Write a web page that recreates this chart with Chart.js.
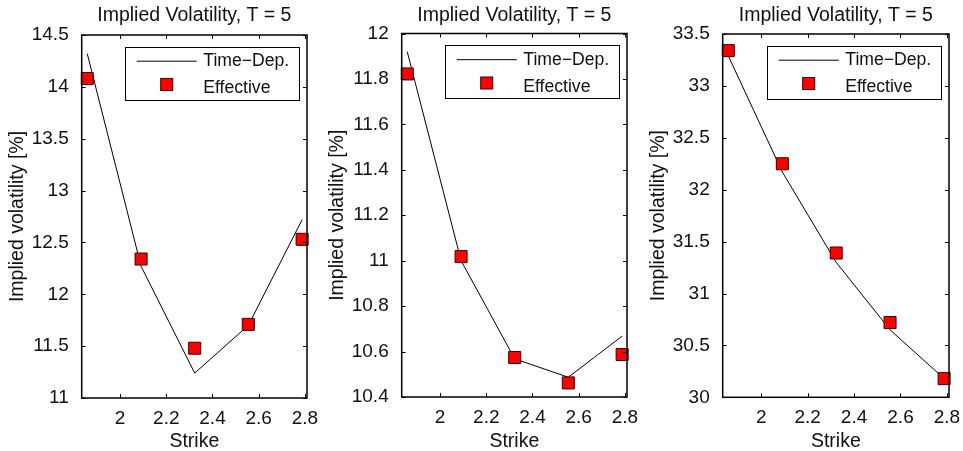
<!DOCTYPE html>
<html><head><meta charset="utf-8">
<script src="https://cdn.jsdelivr.net/npm/chart.js@4/dist/chart.umd.min.js"></script>
<style>
html,body{margin:0;padding:0;background:#fff;}
#wrap{position:relative;width:963px;height:451px;overflow:hidden;background:#fff;}
.pane{position:absolute;top:0;width:321px;height:451px;}
</style></head><body>
<div id="wrap">
<div class="pane" style="left:0px"><canvas id="c1" width="321" height="451"></canvas></div>
<div class="pane" style="left:320px"><canvas id="c2" width="321" height="451"></canvas></div>
<div class="pane" style="left:641px"><canvas id="c3" width="321" height="451"></canvas></div>
</div>
<script>
const FONT = '"Liberation Sans", Arial, Helvetica, sans-serif';
const titleText = 'Implied Volatility, T = 5';
const xLabel = 'Strike';
const yLabel = 'Implied volatility [%]';
const seriesLabels = ['Time\u2212Dep.', 'Effective'];

const strikes = [1.858, 2.091, 2.323, 2.555, 2.788];
const xTicks = [2, 2.2, 2.4, 2.6, 2.8];

const timeDep1  = [14.32, 12.27, 11.24, 11.70, 12.72];
const effective1 = [14.08, 12.34, 11.48, 11.71, 12.53];
const yTicks1 = [11, 11.5, 12, 12.5, 13, 13.5, 14, 14.5];

const timeDep2  = [11.92, 11.00, 10.568, 10.487, 10.668];
const effective2 = [11.822, 11.018, 10.574, 10.462, 10.587];
const yTicks2 = [10.4, 10.6, 10.8, 11, 11.2, 11.4, 11.6, 11.8, 12];

const timeDep3  = [33.29, 32.17, 31.30, 30.65, 30.18];
const effective3 = [33.34, 32.25, 31.39, 30.72, 30.18];
const yTicks3 = [30, 30.5, 31, 31.5, 32, 32.5, 33, 33.5];

const fmt = v => String(Number(v.toFixed(3)));

const framePlugin = {
  id: 'frame',
  afterDatasetsDraw(chart) {
    const {ctx, chartArea: a, scales: {x, y}} = chart;
    ctx.save();
    ctx.strokeStyle = '#000';
    ctx.lineWidth = 1;
    const L = 4;
    ctx.beginPath();
    x.ticks.forEach(t => {
      const px = Math.round(x.getPixelForValue(t.value)) + 0.5;
      ctx.moveTo(px, a.bottom); ctx.lineTo(px, a.bottom - L);
      ctx.moveTo(px, a.top); ctx.lineTo(px, a.top + L);
    });
    y.ticks.forEach(t => {
      const py = Math.round(y.getPixelForValue(t.value)) + 0.5;
      ctx.moveTo(a.left, py); ctx.lineTo(a.left + L, py);
      ctx.moveTo(a.right, py); ctx.lineTo(a.right - L, py);
    });
    ctx.stroke();
    ctx.lineWidth = 1.5;
    ctx.strokeRect(a.left, a.top, a.right - a.left, a.bottom - a.top);
    ctx.restore();
  }
};

const legendPlugin = {
  id: 'boxLegend',
  afterDraw(chart) {
    const {ctx, chartArea: a} = chart;
    const ds = chart.data.datasets;
    const w = 174, h = 53;
    const bx = a.right - 8 - w, by = a.top + 11.7;
    ctx.save();
    ctx.fillStyle = '#fff';
    ctx.fillRect(bx, by, w, h);
    ctx.strokeStyle = '#000';
    ctx.lineWidth = 1;
    ctx.strokeRect(Math.round(bx) + 0.5, Math.round(by) + 0.5, w, h);
    ctx.strokeStyle = ds[0].borderColor;
    ctx.lineWidth = ds[0].borderWidth;
    ctx.beginPath();
    ctx.moveTo(bx + 11.7, by + 14.5);
    ctx.lineTo(bx + 71.7, by + 14.5);
    ctx.stroke();
    const s = 12;
    ctx.fillStyle = ds[1].pointBackgroundColor;
    ctx.strokeStyle = ds[1].pointBorderColor;
    ctx.lineWidth = 1;
    ctx.fillRect(bx + 41.7 - s/2, by + 37.8 - s/2, s, s);
    ctx.strokeRect(bx + 41.7 - s/2, by + 37.8 - s/2, s, s);
    ctx.fillStyle = '#111';
    ctx.font = '17.6px ' + FONT;
    ctx.textBaseline = 'middle';
    ctx.textAlign = 'left';
    ctx.fillText(ds[0].label, bx + 78.3, by + 14.8);
    ctx.fillText(ds[1].label, bx + 78.3, by + 41.5);
    ctx.restore();
  }
};

function makeChart(id, td, eff, yTicks, cfg) {
  const ctx = document.getElementById(id).getContext('2d');
  return new Chart(ctx, {
    type: 'line',
    data: {
      datasets: [
        {
          label: seriesLabels[0],
          data: strikes.map((s, i) => ({x: s, y: td[i]})),
          borderColor: '#000',
          borderWidth: 1,
          pointRadius: 0,
          tension: 0,
          fill: false,
          clip: false,
          order: 2
        },
        {
          label: seriesLabels[1],
          data: strikes.map((s, i) => ({x: s, y: eff[i]})),
          showLine: false,
          pointStyle: 'rect',
          pointRadius: 8.5,
          pointBackgroundColor: '#ff0000',
          pointBorderColor: '#3a0000',
          pointBorderWidth: 1,
          clip: false,
          order: 1
        }
      ]
    },
    options: {
      responsive: false,
      animation: false,
      devicePixelRatio: 1,
      events: [],
      layout: { padding: { left: 0, right: cfg.right, top: 0, bottom: 0 } },
      plugins: {
        legend: { display: false },
        tooltip: { enabled: false },
        title: {
          display: true,
          text: titleText,
          fullSize: false,
          color: '#111',
          font: { family: FONT, size: 19.5, weight: 'normal', lineHeight: 1.2 },
          padding: { top: 4.3, bottom: cfg.top - 4.3 - 23.4 }
        }
      },
      scales: {
        x: {
          type: 'linear',
          min: 1.834,
          max: 2.809,
          grid: { display: false },
          border: { display: false },
          afterBuildTicks: s => { s.ticks = xTicks.map(v => ({value: v})); },
          afterFit: s => { s.height = cfg.xh; s.paddingLeft = 0; s.paddingRight = 0; },
          ticks: {
            color: '#111',
            padding: 1,
            maxRotation: 0,
            autoSkip: false,
            font: { family: FONT, size: 19 },
            callback: v => fmt(v)
          },
          title: {
            display: true,
            text: xLabel,
            color: '#111',
            font: { family: FONT, size: 19.5, lineHeight: 1.0 },
            padding: { top: 0, bottom: 0 }
          }
        },
        y: {
          type: 'linear',
          min: yTicks[0],
          max: yTicks[yTicks.length - 1],
          grid: { display: false },
          border: { display: false },
          afterBuildTicks: s => { s.ticks = yTicks.map(v => ({value: v})); },
          afterFit: s => { s.width = 81.7; s.paddingTop = 0; s.paddingBottom = 0; },
          ticks: {
            color: '#111',
            padding: 5,
            autoSkip: false,
            font: { family: FONT, size: 19 },
            callback: v => fmt(v)
          },
          title: {
            display: true,
            text: yLabel,
            color: '#111',
            font: { family: FONT, size: 19.5, lineHeight: 1.2 },
            padding: { top: 5.8, bottom: 0 }
          }
        }
      }
    },
    plugins: [framePlugin, legendPlugin]
  });
}

makeChart('c1', timeDep1, effective1, yTicks1, {top: 35, xh: 53, right: 14});
makeChart('c2', timeDep2, effective2, yTicks2, {top: 33.5, xh: 54, right: 14});
makeChart('c3', timeDep3, effective3, yTicks3, {top: 34, xh: 53.7, right: 13});
</script>
</body></html>
